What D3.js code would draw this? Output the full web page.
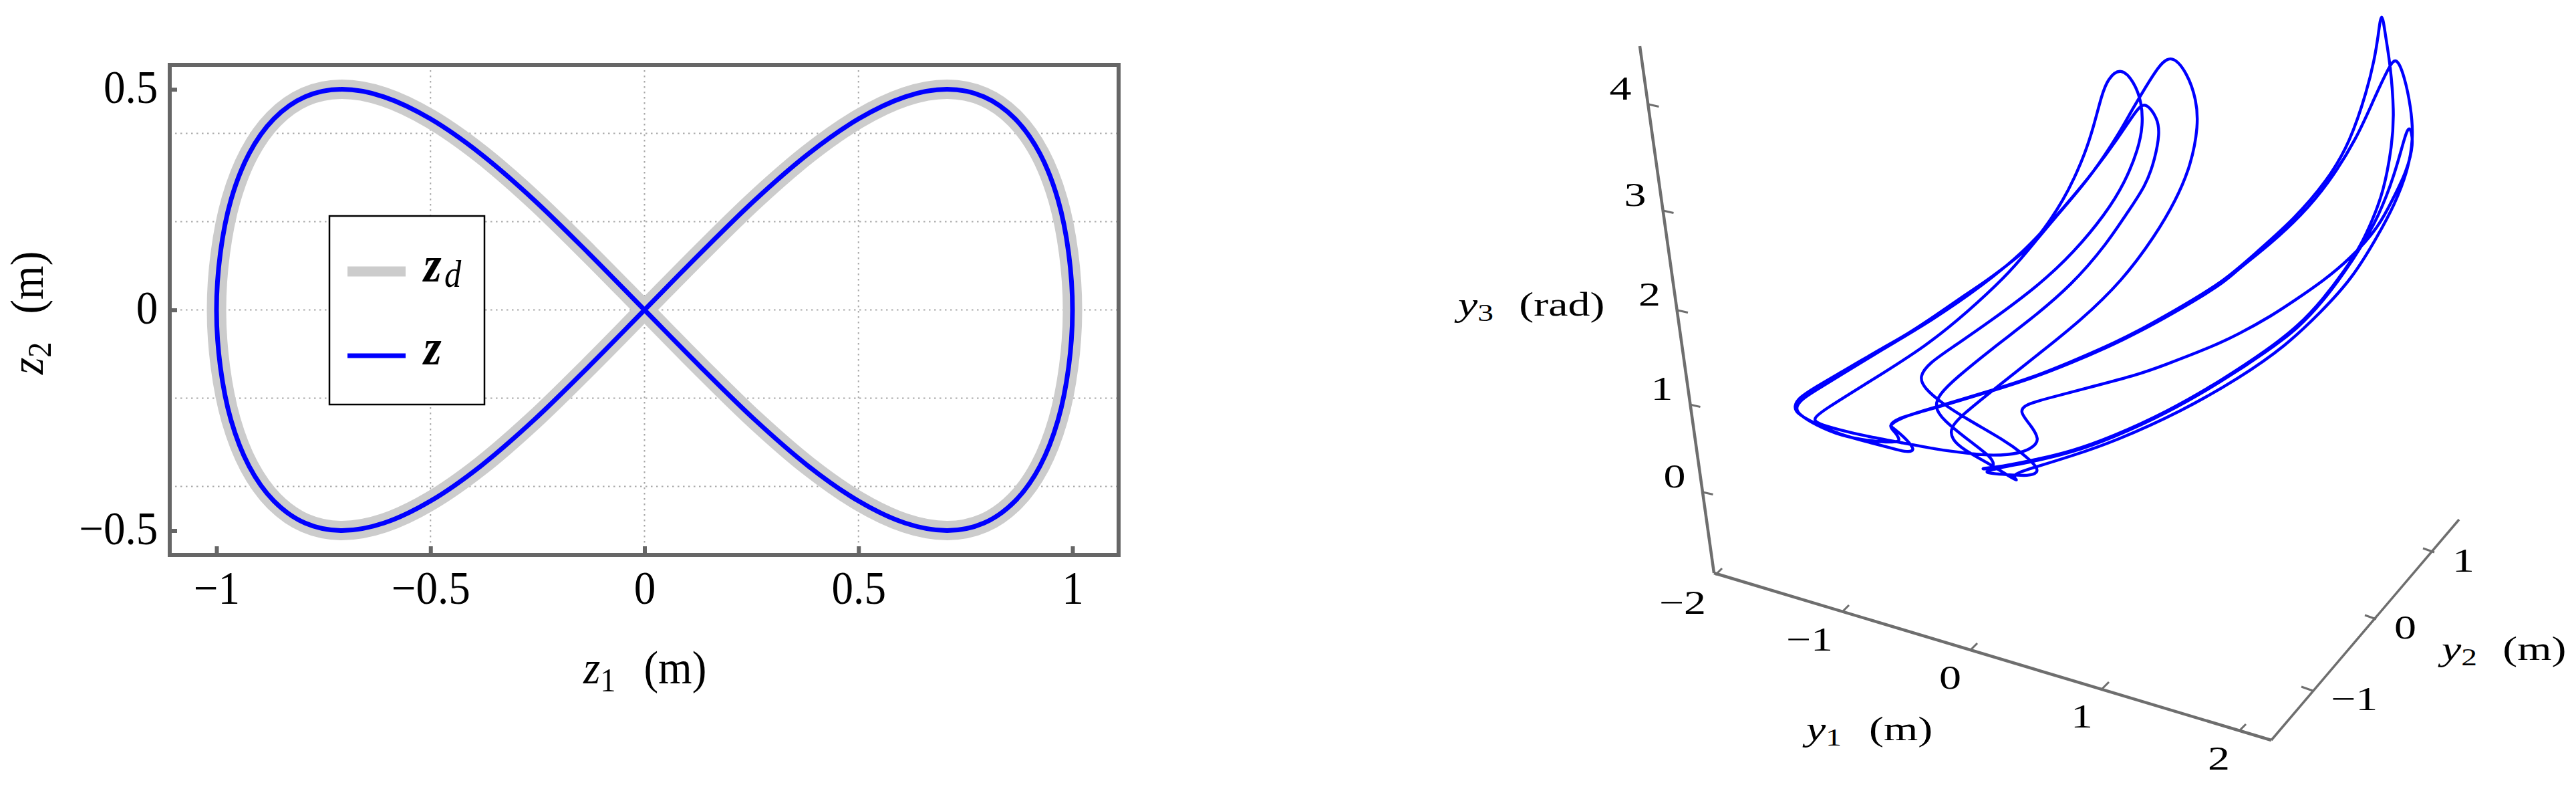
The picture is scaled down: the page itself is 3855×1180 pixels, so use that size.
<!DOCTYPE html>
<html>
<head>
<meta charset="utf-8">
<script src="https://cdnjs.cloudflare.com/ajax/libs/d3/7.8.5/d3.min.js"></script>
<style>
    html, body { margin: 0; padding: 0; background: #fff; }
    text { font-family: "Liberation Serif", "Times New Roman", serif; fill: #000; }
</style>
</head>
<body>
<div id="wrapper"></div>
<script>
// left panel, values
const zd1 = [0, .131, .259, .383, .5, .609, .707, .793, .866, .924, .966, .991, 1, .991, .966, .924, .866, .793, .707, .609, .5, .383, .259, .131,
    0, -.131, -.259, -.383, -.5, -.609, -.707, -.793, -.866, -.924, -.966, -.991, -1, -.991, -.966, -.924, -.866, -.793, -.707, -.609, -.5, -.383, -.259, -.131]
const zd2 = [0, .129, .25, .354, .433, .483, .5, .483, .433, .354, .25, .129, 0, -.129, -.25, -.354, -.433, -.483, -.5, -.483, -.433, -.354, -.25, -.129,
    0, .129, .25, .354, .433, .483, .5, .483, .433, .354, .25, .129, 0, -.129, -.25, -.354, -.433, -.483, -.5, -.483, -.433, -.354, -.25, -.129]
const z1 = [0, .131, .259, .383, .5, .609, .707, .793, .866, .924, .966, .991, 1, .991, .966, .924, .866, .793, .707, .609, .5, .383, .259, .131,
    0, -.131, -.259, -.383, -.5, -.609, -.707, -.793, -.866, -.924, -.966, -.991, -1, -.991, -.966, -.924, -.866, -.793, -.707, -.609, -.5, -.383, -.259, -.131]
const z2 = [0, .129, .25, .354, .433, .483, .5, .483, .433, .354, .25, .129, 0, -.129, -.25, -.354, -.433, -.483, -.5, -.483, -.433, -.354, -.25, -.129,
    0, .129, .25, .354, .433, .483, .5, .483, .433, .354, .25, .129, 0, -.129, -.25, -.354, -.433, -.483, -.5, -.483, -.433, -.354, -.25, -.129]
const z1Ticks = [-1, -0.5, 0, 0.5, 1]
const z2Ticks = [-0.5, 0, 0.5]
const z1Grid = [-0.5, 0, 0.5]
const z2Grid = [-0.4, -0.2, 0, 0.2, 0.4]

// right panel, the 3d axes ticks
const y1Ticks = [-2, -1, 0, 1, 2]
const y2Ticks = [-1, 0, 1]
const y3Ticks = [0, 1, 2, 3, 4]

// trajectory as it appears on the projected plane (one closed curve, three rounds)
const trajU = [118.6,119.8,120.8,121.2,120.3,118.3,116.0,112.0,107.3,102.1,95.2,86.5,76.5,70.0,64.8,60.7,62.3,60.6,58.3,53.7,52.1,51.8,53.7,58.3,65.9,71.3,77.6,82.5,85.6,87.9,89.0,88.7,87.4,84.8,
    82.5,80.4,78.9,77.1,72.7,67.3,63.3,60.2,54.4,48.3,40.7,32.6,31.4,31.8,35.3,39.1,44.5,49.8,54.4,58.3,62.5,64.4,65.2,64.0,62.1,63.2,65.9,73.6,80.0,83.4,90.7,95.0,100.0,103.3,107.7,111.7,116.0,118.3,120.0,121.3,120.6,
    119.8,118.3,116.0,113.3,111.0,107.7,104.0,99.5,92.6,84.1,76.1,70.0,64.4,59.0,56.2,60.6,63.6,65.0,64.8,62.5,60.2,54.4,50.6,47.9,47.2,48.7,52.1,57.5,65.1,70.4,75.1,78.0,80.0,80.7,80.5,79.4,77.4,
    75.4,74.5,73.3,72.0,70.4,68.7,66.9,65.1,62.9,60.2,57.0,53.5,49.5,45.4,41.8,35.3,31.5,29.2,28.5,28.8,31.5,35.3,40.3,43.0,45.2,46.2,46.4,44.9,43.3,42.7,44.5,47.5,53.7,58.3,64.0,69.7,75.5,80.0,85.0,92.7,97.7,103.3,108.3,111.7,114.3,115.3,115.9,116.4,117.0,
    117.7,118.3,118.0,116.7,115.0,113.3,111.0,107.7,104.0,99.5,92.6,84.1,76.1,70.0,64.4,59.5,55.9,57.9,58.5,57.9,55.2,50.6,49.5,50.2,52.5,58.3,63.6,70.0,75.4,78.0,81.2,82.5,83.2,82.9,81.1,
    79.8,77.1,72.7,67.3,63.0,57.0,49.0,41.8,35.3,31.5,29.5,28.7,29.2,31.8,35.5,40.0,44.1,44.3,43.5,42.6,43.8,47.5,53.7,58.3,64.0,69.7,75.5,80.0,85.0,92.7,94.3,100.0,104.3,108.3,112.7,115.3,117.5]
const trajV = [106.6,103.7,99.0,94.3,89.3,84.3,80.0,73.3,68.3,63.3,58.5,53.5,49.0,46.8,45.2,44.0,42.9,43.8,45.3,47.8,49.3,51.0,53.0,56.7,62.7,67.0,73.0,79.7,85.0,90.3,96.3,100.0,104.0,107.2,
    104.3,100.8,98.3,95.0,88.3,82.2,77.3,73.7,68.3,63.3,58.5,53.5,52.4,51.7,50.7,49.8,48.8,47.8,47.2,46.8,47.2,48.2,49.3,51.3,53.5,54.5,55.3,57.3,59.0,60.2,63.0,65.0,67.8,70.0,73.0,76.3,81.0,85.7,89.0,93.5,96.6,
    94.3,88.7,82.7,78.0,74.5,70.0,66.0,62.6,58.0,53.1,49.5,47.3,46.0,45.0,44.3,44.0,43.8,44.3,45.3,47.3,49.0,52.3,54.7,57.0,58.7,60.7,63.0,66.7,72.3,77.3,83.0,87.7,92.7,96.3,99.7,102.7,105.0,
    103.2,100.7,96.0,92.0,88.3,85.0,82.2,79.7,77.3,75.2,72.8,70.5,67.7,65.0,63.0,59.2,57.0,55.5,54.3,53.2,51.7,50.0,48.7,48.0,47.4,47.5,48.0,49.7,51.0,51.4,52.5,53.5,55.3,56.7,58.5,60.8,63.3,65.5,68.3,72.8,77.3,82.2,88.0,93.7,101.7,106.0,109.5,113.9,109.5,
    105.5,98.3,93.3,86.3,82.0,78.3,74.7,70.3,66.3,62.8,58.2,53.3,49.7,47.5,46.2,45.2,44.9,44.8,45.5,46.7,48.7,52.3,54.2,56.0,58.3,63.0,67.0,72.3,78.7,82.7,87.3,91.3,95.0,97.3,99.8,
    98.7,94.5,88.5,82.2,77.5,72.5,67.0,62.8,58.8,56.5,55.2,54.0,53.0,51.4,49.8,49.0,48.8,49.3,50.5,51.3,52.4,53.4,55.2,56.6,58.4,60.6,63.1,65.3,68.0,72.6,74.2,78.7,82.7,87.3,94.3,100.3,105.0]

const width = 3855
const height = 1180

const svg = d3.select("#wrapper")
    .append("svg")
    .attr("width", width)
    .attr("height", height)
    .style("display", "block")

const frame = { left: 254, right: 1674, top: 97, bottom: 830 }
const gray = "#666666"

const xScale = d3.scaleLinear().domain([-1, 1]).range([324, 1605])
const yScale = d3.scaleLinear().domain([-0.5, 0.5]).range([793.5, 133.6])

// dotted grid
const left = svg.append("g")
left.append("g").selectAll("line").data(z1Grid).join("line")
    .attr("x1", d => xScale(d)).attr("x2", d => xScale(d))
    .attr("y1", frame.top).attr("y2", frame.bottom)
left.append("g").selectAll("line").data(z2Grid).join("line")
    .attr("x1", frame.left).attr("x2", frame.right)
    .attr("y1", d => yScale(d)).attr("y2", d => yScale(d))
left.selectAll("line")
    .attr("stroke", "#a8a8a8")
    .attr("stroke-width", 2)
    .attr("stroke-dasharray", "2.5 5.5")

const curve = d3.line()
    .x(d => xScale(d[0]))
    .y(d => yScale(d[1]))
    .curve(d3.curveCatmullRomClosed.alpha(0))

left.append("path")
    .attr("d", curve(zd1.map((d, i) => [d, zd2[i]])))
    .attr("fill", "none")
    .attr("stroke", "#cccccc")
    .attr("stroke-width", 29)
left.append("path")
    .attr("d", curve(z1.map((d, i) => [d, z2[i]])))
    .attr("fill", "none")
    .attr("stroke", "#0000ff")
    .attr("stroke-width", 7)

left.append("rect")
    .attr("x", frame.left).attr("y", frame.top)
    .attr("width", frame.right - frame.left)
    .attr("height", frame.bottom - frame.top)
    .attr("fill", "none")
    .attr("stroke", gray)
    .attr("stroke-width", 6)

const minus = d => String(d).replace("-", "\u2212")

const xAxis = left.append("g")
    .attr("transform", `translate(0,${frame.bottom})`)
    .call(d3.axisBottom(xScale).tickValues(z1Ticks).tickFormat(minus).tickSize(-13).tickPadding(23))
const yAxis = left.append("g")
    .attr("transform", `translate(${frame.left},0)`)
    .call(d3.axisLeft(yScale).tickValues(z2Ticks).tickFormat(minus).tickSize(-11).tickPadding(19))
yAxis.selectAll("text").attr("dy", "0.28em")

for (const axis of [xAxis, yAxis]) {
    axis.select(".domain").remove()
    axis.selectAll("line").attr("stroke", gray).attr("stroke-width", 6)
    axis.selectAll("text")
        .attr("font-size", 70)
        .attr("transform", "scale(0.93,1)")
}

// writes "z_1 (m)" style labels, parts are [text, size, dy, style, dx]
function label(parent, x, y, parts, transform) {
    const t = parent.append("text")
        .attr("transform", `translate(${x},${y}) ${transform || ""}`)
    parts.forEach(p => {
        t.append("tspan")
            .text(p[0])
            .attr("font-size", p[1])
            .attr("dy", p[2] || 0)
            .attr("dx", p[4] || 0)
            .attr("font-style", p[3] === "i" || p[3] === "bi" ? "italic" : "normal")
            .attr("font-weight", p[3] === "bi" ? "bold" : "normal")
    })
    return t
}

label(left, 873, 1022, [["z", 70, 0, "i"], ["1", 50, 12], ["(m)", 70, -12, "", 45]], "scale(0.93,1)")
label(left, 64, 560, [["z", 70, 0, "i"], ["2", 50, 12], ["(m)", 70, -12, "", 45]], "rotate(-90) scale(0.93,1)")

// legend
const legend = left.append("g")
legend.append("rect")
    .attr("x", 493).attr("y", 323)
    .attr("width", 232).attr("height", 282)
    .attr("fill", "#fff")
    .attr("stroke", "#000")
    .attr("stroke-width", 2.5)
legend.append("line")
    .attr("x1", 520).attr("x2", 607).attr("y1", 406).attr("y2", 406)
    .attr("stroke", "#cccccc").attr("stroke-width", 15)
legend.append("line")
    .attr("x1", 520).attr("x2", 607).attr("y1", 532).attr("y2", 532)
    .attr("stroke", "#0000ff").attr("stroke-width", 7)
label(legend, 634, 421, [["z", 76, 0, "bi"], ["d", 56, 8, "i", 5]], "scale(0.9,1)")
label(legend, 634, 545, [["z", 76, 0, "bi"]], "scale(0.9,1)")

// right panel
const right = svg.append("g")
const axisGray = "#6e6e6e"

// plane units to pixels
const uScale = d3.scaleLinear().domain([0, 100]).range([2400, 3400])
const vScale = d3.scaleLinear().domain([0, 100]).range([1150, 150])

// perspective makes the tick spacing uneven, so the scales go through each tick
const y3X = d3.scaleLinear().domain(y3Ticks).range([2548, 2529, 2510.5, 2489, 2467])
const y3Y = d3.scaleLinear().domain(y3Ticks).range([736, 605, 464, 315, 156])
const y1X = d3.scaleLinear().domain(y1Ticks).range([2567, 2757, 2949, 3146, 3351])
const y1Y = d3.scaleLinear().domain(y1Ticks).range([860, 915, 972, 1030, 1093])
const y2X = d3.scaleLinear().domain(y2Ticks).range([3461, 3556, 3643])
const y2Y = d3.scaleLinear().domain(y2Ticks).range([1033, 926, 826])

function line3d(x1, y1, x2, y2, w) {
    right.append("line")
        .attr("x1", x1).attr("y1", y1).attr("x2", x2).attr("y2", y2)
        .attr("stroke", axisGray)
        .attr("stroke-width", w)
}

line3d(2454, 69, 2565, 857, 4.5)
line3d(2565, 857, 3399, 1107, 4.5)
line3d(3399, 1107, 3680, 777, 3.5)

const sq = "scale(1.32,1)"

function axis3d(ticks, sx, sy, dx, dy, lx, ly, anchor) {
    ticks.forEach(t => {
        line3d(sx(t), sy(t), sx(t) + dx, sy(t) + dy, 3)
        right.append("text")
            .attr("transform", `translate(${sx(t) + lx},${sy(t) + ly}) ${sq}`)
            .attr("text-anchor", anchor)
            .attr("font-size", 50)
            .text(minus(t))
    })
}

axis3d(y3Ticks, y3X, y3Y, 15.5, 3.5, -42, -7, "middle")
axis3d(y1Ticks, y1X, y1Y, 10, -10, -14, 58, "end")
axis3d(y2Ticks, y2X, y2Y, -17, -6, 27, 29, "start")

label(right, 2182, 472, [["y", 50, 0, "i"], ["3", 36, 8], ["(rad)", 50, -8, "", 29]], sq)
label(right, 2703, 1107, [["y", 50, 0, "i"], ["1", 36, 8], ["(m)", 50, -8, "", 31]], sq)
label(right, 3654, 987, [["y", 50, 0, "i"], ["2", 36, 8], ["(m)", 50, -8, "", 29]], sq)

const traj = d3.line()
    .x(d => uScale(d[0]))
    .y(d => vScale(d[1]))
    .curve(d3.curveBasisClosed)

right.append("path")
    .attr("d", traj(trajU.map((d, i) => [d, trajV[i]])))
    .attr("fill", "none")
    .attr("stroke", "#0000ff")
    .attr("stroke-width", 4.4)
    .attr("stroke-linejoin", "round")
</script>
</body>
</html>
